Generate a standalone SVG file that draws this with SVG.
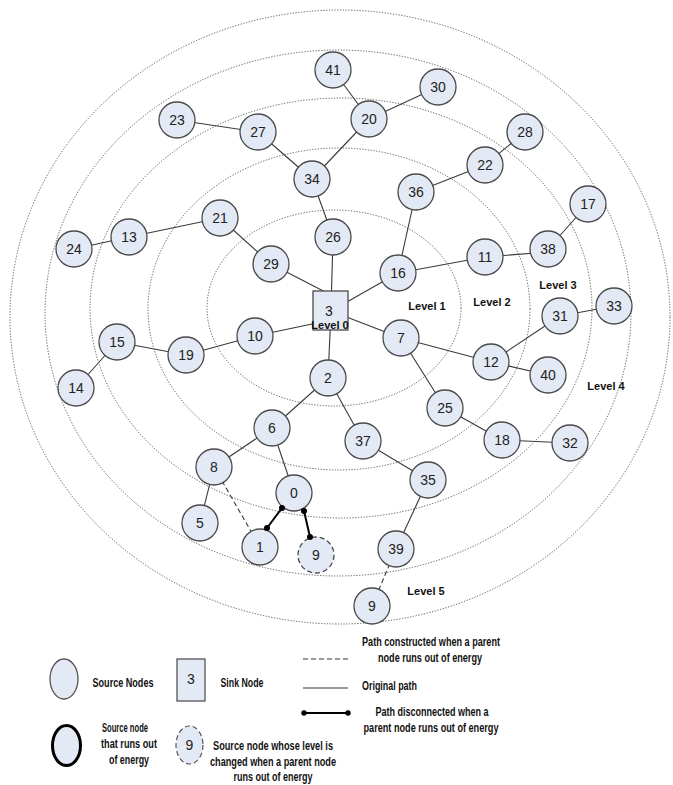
<svg xmlns="http://www.w3.org/2000/svg" width="673" height="785" viewBox="0 0 673 785">
<style>
.ring{fill:none;stroke:#555;stroke-width:1;stroke-dasharray:1.2 1.6}
.n circle{fill:#E4EAF5;stroke:#4a4a4a;stroke-width:1.3}
.n text,.lbl{font-family:"Liberation Sans",Arial,sans-serif;font-size:14px;fill:#222;text-anchor:middle}
.e{stroke:#3a3a3a;stroke-width:1.1;fill:none}
.d{stroke:#3a3a3a;stroke-width:1.1;stroke-dasharray:5 3;fill:none}
.x{stroke:#000;stroke-width:2;fill:none}
.dot{fill:#000}
.lv{font-family:"Liberation Sans",Arial,sans-serif;font-size:11px;font-weight:bold;fill:#111;text-anchor:middle}
.lg{font-family:"Liberation Sans Narrow","Liberation Sans",Arial,sans-serif;font-size:12px;font-weight:bold;fill:#111;text-anchor:middle}
</style>
<rect width="673" height="785" fill="#fff"/>
<g id="rings">
<ellipse class="ring" cx="334" cy="308" rx="127" ry="98"/>
<ellipse class="ring" cx="339" cy="309" rx="191" ry="161"/>
<ellipse class="ring" cx="341" cy="308" rx="251" ry="210"/>
<ellipse class="ring" cx="338" cy="313" rx="293" ry="263"/>
<ellipse class="ring" cx="340" cy="317" rx="330" ry="307"/>
</g>
<g id="connectors">
<line class="e" x1="333" y1="70" x2="369" y2="119"/>
<line class="e" x1="369" y1="119" x2="438" y2="87"/>
<line class="e" x1="369" y1="119" x2="312" y2="179"/>
<line class="e" x1="177" y1="120" x2="258" y2="132"/>
<line class="e" x1="258" y1="132" x2="312" y2="179"/>
<line class="e" x1="312" y1="179" x2="333" y2="237"/>
<line class="e" x1="333" y1="237" x2="331" y2="311"/>
<line class="e" x1="416" y1="192" x2="485" y2="165"/>
<line class="e" x1="485" y1="165" x2="525" y2="132"/>
<line class="e" x1="416" y1="192" x2="398" y2="273"/>
<line class="e" x1="398" y1="273" x2="331" y2="311"/>
<line class="e" x1="398" y1="273" x2="485" y2="257"/>
<line class="e" x1="485" y1="257" x2="548" y2="252"/>
<line class="e" x1="548" y1="249" x2="588" y2="204"/>
<line class="e" x1="74" y1="249" x2="129" y2="237"/>
<line class="e" x1="129" y1="237" x2="220" y2="218"/>
<line class="e" x1="220" y1="218" x2="271" y2="264"/>
<line class="e" x1="271" y1="264" x2="331" y2="295"/>
<line class="e" x1="331" y1="320" x2="255" y2="336"/>
<line class="e" x1="255" y1="336" x2="186" y2="355"/>
<line class="e" x1="186" y1="355" x2="117" y2="342"/>
<line class="e" x1="117" y1="342" x2="76" y2="388"/>
<line class="e" x1="331" y1="311" x2="401" y2="338"/>
<line class="e" x1="331" y1="311" x2="328" y2="378"/>
<line class="e" x1="401" y1="338" x2="491" y2="362"/>
<line class="e" x1="491" y1="362" x2="560" y2="316"/>
<line class="e" x1="560" y1="316" x2="614" y2="306"/>
<line class="e" x1="491" y1="362" x2="548" y2="375"/>
<line class="e" x1="401" y1="338" x2="445" y2="408"/>
<line class="e" x1="445" y1="408" x2="502" y2="440"/>
<line class="e" x1="502" y1="440" x2="570" y2="443"/>
<line class="e" x1="328" y1="378" x2="272" y2="428"/>
<line class="e" x1="328" y1="378" x2="363" y2="441"/>
<line class="e" x1="363" y1="441" x2="428" y2="480"/>
<line class="e" x1="428" y1="480" x2="396" y2="549"/>
<line class="e" x1="272" y1="428" x2="214" y2="467"/>
<line class="e" x1="214" y1="467" x2="200" y2="523"/>
<line class="e" x1="272" y1="428" x2="294" y2="493"/>
<line class="d" x1="214" y1="467" x2="260" y2="547"/>
<line class="d" x1="396" y1="549" x2="372" y2="606"/>
<line class="x" x1="282" y1="508" x2="267" y2="528"/>
<line class="x" x1="304" y1="511" x2="310" y2="537"/>
</g>
<g id="nodes">
<g id="n41" class="n"><circle cx="333" cy="70" r="18"/><text x="333" y="75">41</text></g>
<g id="n30" class="n"><circle cx="438" cy="87" r="18"/><text x="438" y="92">30</text></g>
<g id="n20" class="n"><circle cx="369" cy="119" r="18"/><text x="369" y="124">20</text></g>
<g id="n23" class="n"><circle cx="177" cy="120" r="18"/><text x="177" y="125">23</text></g>
<g id="n27" class="n"><circle cx="258" cy="132" r="18"/><text x="258" y="137">27</text></g>
<g id="n28" class="n"><circle cx="525" cy="132" r="18"/><text x="525" y="137">28</text></g>
<g id="n22" class="n"><circle cx="485" cy="165" r="18"/><text x="485" y="170">22</text></g>
<g id="n34" class="n"><circle cx="312" cy="179" r="18"/><text x="312" y="184">34</text></g>
<g id="n36" class="n"><circle cx="416" cy="192" r="18"/><text x="416" y="197">36</text></g>
<g id="n17" class="n"><circle cx="588" cy="204" r="18"/><text x="588" y="209">17</text></g>
<g id="n21" class="n"><circle cx="220" cy="218" r="18"/><text x="220" y="223">21</text></g>
<g id="n13" class="n"><circle cx="129" cy="237" r="18"/><text x="129" y="242">13</text></g>
<g id="n24" class="n"><circle cx="74" cy="249" r="18"/><text x="74" y="254">24</text></g>
<g id="n26" class="n"><circle cx="333" cy="237" r="18"/><text x="333" y="242">26</text></g>
<g id="n38" class="n"><circle cx="548" cy="249" r="18"/><text x="548" y="254">38</text></g>
<g id="n11" class="n"><circle cx="485" cy="257" r="18"/><text x="485" y="262">11</text></g>
<g id="n29" class="n"><circle cx="271" cy="264" r="18"/><text x="271" y="269">29</text></g>
<g id="n16" class="n"><circle cx="398" cy="273" r="18"/><text x="398" y="278">16</text></g>
<g id="n3" class="n"><rect x="313" y="291" width="35" height="39" fill="#E4EAF5" stroke="#4a4a4a" stroke-width="1.3"/><text x="329" y="316">3</text></g>
<g id="n33" class="n"><circle cx="614" cy="306" r="18"/><text x="614" y="311">33</text></g>
<g id="n31" class="n"><circle cx="560" cy="316" r="18"/><text x="560" y="321">31</text></g>
<g id="n15" class="n"><circle cx="117" cy="342" r="18"/><text x="117" y="347">15</text></g>
<g id="n10" class="n"><circle cx="255" cy="336" r="18"/><text x="255" y="341">10</text></g>
<g id="n7" class="n"><circle cx="401" cy="338" r="18"/><text x="401" y="343">7</text></g>
<g id="n19" class="n"><circle cx="186" cy="355" r="18"/><text x="186" y="360">19</text></g>
<g id="n12" class="n"><circle cx="491" cy="362" r="18"/><text x="491" y="367">12</text></g>
<g id="n40" class="n"><circle cx="548" cy="375" r="18"/><text x="548" y="380">40</text></g>
<g id="n2" class="n"><circle cx="328" cy="378" r="18"/><text x="328" y="383">2</text></g>
<g id="n14" class="n"><circle cx="76" cy="388" r="18"/><text x="76" y="393">14</text></g>
<g id="n25" class="n"><circle cx="445" cy="408" r="18"/><text x="445" y="413">25</text></g>
<g id="n6" class="n"><circle cx="272" cy="428" r="18"/><text x="272" y="433">6</text></g>
<g id="n37" class="n"><circle cx="363" cy="441" r="18"/><text x="363" y="446">37</text></g>
<g id="n18" class="n"><circle cx="502" cy="440" r="18"/><text x="502" y="445">18</text></g>
<g id="n32" class="n"><circle cx="570" cy="443" r="18"/><text x="570" y="448">32</text></g>
<g id="n8" class="n"><circle cx="214" cy="467" r="18"/><text x="214" y="472">8</text></g>
<g id="n35" class="n"><circle cx="428" cy="480" r="18"/><text x="428" y="485">35</text></g>
<g id="n0" class="n"><circle cx="294" cy="493" r="18" stroke="#000" stroke-width="3"/><text x="294" y="498">0</text></g>
<g id="n5" class="n"><circle cx="200" cy="523" r="18"/><text x="200" y="528">5</text></g>
<g id="n1" class="n"><circle cx="260" cy="547" r="18"/><text x="260" y="552">1</text></g>
<g id="n9a" class="n"><circle cx="316" cy="555" r="18" stroke="#666" stroke-dasharray="5 3"/><text x="316" y="560">9</text></g>
<g id="n39" class="n"><circle cx="396" cy="549" r="18"/><text x="396" y="554">39</text></g>
<g id="n9b" class="n"><circle cx="372" cy="606" r="18"/><text x="372" y="611">9</text></g>
</g>
<g id="dots">
<circle class="dot" cx="282" cy="508" r="3"/>
<circle class="dot" cx="267" cy="528" r="3"/>
<circle class="dot" cx="304" cy="511" r="3"/>
<circle class="dot" cx="310" cy="537" r="3"/>
</g>
<g id="levels">
<text class="lv" x="330" y="329">Level 0</text>
<text class="lv" x="427" y="310">Level 1</text>
<text class="lv" x="492" y="306">Level 2</text>
<text class="lv" x="558" y="289">Level 3</text>
<text class="lv" x="606" y="390">Level 4</text>
<text class="lv" x="426" y="595">Level 5</text>
</g>
<g id="legend">
<ellipse cx="64" cy="679" rx="14" ry="20" fill="#E4EAF5" stroke="#555" stroke-width="1.3"/>
<text class="lg" x="123" y="687" textLength="61" lengthAdjust="spacingAndGlyphs">Source Nodes</text>
<rect x="177" y="659" width="28" height="42" fill="#E4EAF5" stroke="#555" stroke-width="1.3"/>
<text class="lbl" x="191" y="684">3</text>
<text class="lg" x="242" y="687" textLength="43" lengthAdjust="spacingAndGlyphs">Sink Node</text>
<line x1="303" y1="659" x2="348" y2="659" stroke="#333" stroke-width="1" stroke-dasharray="5 3"/>
<text class="lg" x="431" y="646" textLength="138" lengthAdjust="spacingAndGlyphs">Path constructed when a parent</text>
<text class="lg" x="430" y="662" textLength="104" lengthAdjust="spacingAndGlyphs">node runs out of energy</text>
<line x1="303" y1="688" x2="348" y2="688" stroke="#333" stroke-width="1"/>
<text class="lg" x="389.5" y="690" textLength="55" lengthAdjust="spacingAndGlyphs">Original path</text>
<line x1="304" y1="713" x2="348" y2="713" stroke="#000" stroke-width="2"/>
<circle class="dot" cx="304" cy="713" r="2.7"/>
<circle class="dot" cx="348" cy="713" r="2.7"/>
<text class="lg" x="432" y="716" textLength="113" lengthAdjust="spacingAndGlyphs">Path disconnected when a</text>
<text class="lg" x="431" y="732" textLength="135" lengthAdjust="spacingAndGlyphs">parent node runs out of energy</text>
<ellipse cx="66.5" cy="745.5" rx="14" ry="20" fill="#E4EAF5" stroke="#000" stroke-width="3"/>
<text class="lg" x="125" y="732" textLength="46" lengthAdjust="spacingAndGlyphs">Source node</text>
<text class="lg" x="129" y="748" textLength="56" lengthAdjust="spacingAndGlyphs">that runs out</text>
<text class="lg" x="129" y="764" textLength="40" lengthAdjust="spacingAndGlyphs">of energy</text>
<ellipse cx="189.5" cy="745" rx="13.5" ry="19" fill="#E4EAF5" stroke="#555" stroke-width="1.2" stroke-dasharray="5 3"/>
<text class="lbl" x="189.5" y="750">9</text>
<text class="lg" x="273" y="750" textLength="120" lengthAdjust="spacingAndGlyphs">Source node whose level is</text>
<text class="lg" x="273" y="766" textLength="126" lengthAdjust="spacingAndGlyphs">changed when a parent node</text>
<text class="lg" x="273" y="781" textLength="79" lengthAdjust="spacingAndGlyphs">runs out of energy</text>
</g>
</svg>
